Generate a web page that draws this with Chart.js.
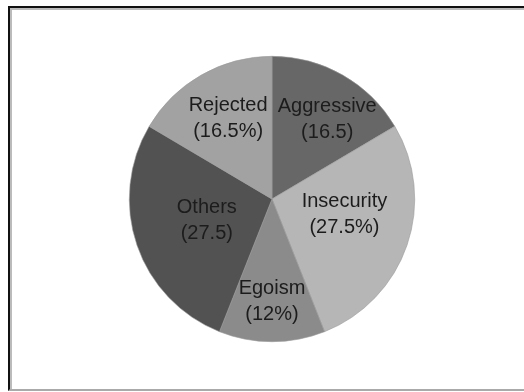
<!DOCTYPE html>
<html>
<head>
<meta charset="utf-8">
<script src="https://cdn.jsdelivr.net/npm/chart.js@4.4.0/dist/chart.umd.min.js"></script>
<style>
  html, body { margin: 0; padding: 0; background: #fff; }
  #wrap { position: relative; width: 524px; height: 392px; overflow: hidden; }
  #frame {
    position: absolute; left: 8px; top: 6px; width: 530px; height: 381px;
    border-left: 2px solid #111; border-top: 2px solid #111; border-bottom: 2px solid #aaa;
    box-shadow: inset 2px 2px 0 #bbb;
  }
  canvas { position: absolute; left: 0; top: 0; }
</style>
</head>
<body>
<div id="wrap">
  <div id="frame"></div>
  <canvas id="grafico" width="524" height="392"></canvas>
</div>
<script>
// datos del grafico
const categorias = ["Aggressive", "Insecurity", "Egoism", "Others", "Rejected"];
const valores = [16.5, 27.5, 12, 27.5, 16.5];
const etiquetasValor = ["(16.5)", "(27.5%)", "(12%)", "(27.5)", "(16.5%)"];

const colores = ["#676767", "#b6b6b6", "#8b8b8b", "#525252", "#a2a2a2"];
// donde va cada texto: fraccion del radio y giro en grados
const radioEtiqueta = [0.68, 0.52, 0.72, 0.48, 0.64];
const giroEtiqueta = [5, -6.5, 0, 1, 1];

const etiquetasPlugin = {
  id: "etiquetas",
  afterDatasetsDraw(chart) {
    const ctx = chart.ctx;
    const meta = chart.getDatasetMeta(0);
    ctx.save();
    ctx.font = "20px 'Liberation Sans', Arial, sans-serif";
    ctx.fillStyle = "#1c1c1c";
    ctx.textAlign = "center";
    ctx.textBaseline = "middle";
    meta.data.forEach((arc, i) => {
      const p = arc.getProps(["x", "y", "startAngle", "endAngle", "outerRadius"], true);
      const mid = (p.startAngle + p.endAngle) / 2 + giroEtiqueta[i] * Math.PI / 180;
      const r = p.outerRadius * radioEtiqueta[i];
      const x = p.x + Math.cos(mid) * r;
      const y = p.y + Math.sin(mid) * r;
      ctx.fillText(categorias[i], x, y - 13);
      ctx.fillText(etiquetasValor[i], x, y + 13);
    });
    ctx.restore();
  }
};

const ctx = document.getElementById("grafico").getContext("2d");
new Chart(ctx, {
  type: "pie",
  data: {
    labels: categorias,
    datasets: [
      {
        data: valores,
        backgroundColor: colores,
        borderColor: "#9a9a9a",
        borderWidth: 0.6,
      },
    ],
  },
  options: {
    responsive: false,
    animation: false,
    layout: { padding: { left: 129, top: 56, right: 109, bottom: 50 } },
    plugins: {
      legend: { display: false },
      tooltip: { enabled: false },
    },
  },
  plugins: [etiquetasPlugin],
});
</script>
</body>
</html>
